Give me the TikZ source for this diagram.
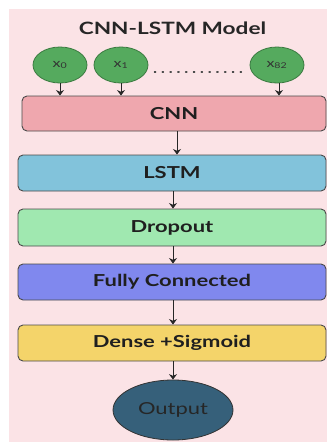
\documentclass[tikz,border=0pt]{standalone}
\usepackage{fontspec}
\setmainfont{Lato}
\usetikzlibrary{arrows.meta,shapes.geometric}
\definecolor{bgpink}{HTML}{FBE3E6}
\definecolor{cnncol}{HTML}{EFA7AE}
\definecolor{lstmcol}{HTML}{82C3DB}
\definecolor{dropcol}{HTML}{A0E8B0}
\definecolor{fccol}{HTML}{8088EE}
\definecolor{densecol}{HTML}{F4D46A}
\definecolor{outcol}{HTML}{36607A}
\definecolor{incol}{HTML}{55AA5E}
\definecolor{inborder}{HTML}{3A7A40}
\definecolor{boxborder}{HTML}{4A4A4A}
\newcommand\widetxt[1]{\scalebox{1.33}[1]{#1}}
\begin{document}
\begin{tikzpicture}[x=1pt,y=-1pt,
  layerbox/.style={draw=boxborder, line width=0.9pt, rounded corners=5pt, minimum height=36pt, inner sep=0pt, font=\bfseries\fontsize{16.5}{18}\selectfont, text=black!88},
  inputnode/.style={ellipse, draw=inborder, fill=incol, line width=0.8pt, minimum width=54pt, minimum height=36pt, inner sep=0pt, font=\fontsize{12}{13}\selectfont, text=black!80},
  flow/.style={-{Stealth[length=5.5pt,width=8pt]}, line width=1pt, black!85}
]
\useasboundingbox (0,0) rectangle (327,442);
\fill[bgpink] (9,9) rectangle (327,442);
\node[font=\bfseries\fontsize{17}{19}\selectfont, text=black!85] (title) at (172.5,28) {\widetxt{CNN-LSTM Model}};
\node[inputnode] (x0) at (60,65) {\widetxt{x\textsubscript{0}}};
\node[inputnode] (x1) at (121,65) {\widetxt{x\textsubscript{1}}};
\node[inputnode] (x82) at (277,65) {\widetxt{x\textsubscript{82}}};
\draw[line width=1.3pt, black!70, dash pattern=on 1.3pt off 6.5pt, line cap=round] ([xshift=6pt,yshift=-7pt]x1.east) -- ([xshift=-6pt,yshift=-7pt]x82.west);
\node[layerbox, fill=cnncol, minimum width=304pt, minimum height=35pt] (cnn) at (174,113.5) {\widetxt{CNN}};
\node[layerbox, fill=lstmcol, minimum width=308pt] (lstm) at (172,173) {\widetxt{LSTM}};
\node[layerbox, fill=dropcol, minimum width=308pt, minimum height=37pt] (drop) at (172,227.5) {\widetxt{Dropout}};
\node[layerbox, fill=fccol, minimum width=308pt] (fc) at (172,282) {\widetxt{Fully Connected}};
\node[layerbox, fill=densecol, minimum width=308pt] (dense) at (172,343) {\widetxt{Dense +Sigmoid}};
\node[ellipse, draw=black!80, fill=outcol, line width=0.8pt, minimum width=120pt, minimum height=60pt, inner sep=0pt, font=\fontsize{16.5}{18}\selectfont, text=black!85] (out) at (173,410) {\widetxt{Output}};
\draw[flow] (x0.south) -- (x0.south |- cnn.north);
\draw[flow] (x1.south) -- (x1.south |- cnn.north);
\draw[flow] ([xshift=2pt]x82.south) -- ([xshift=2pt]x82.south |- cnn.north);
\draw[flow] ([xshift=3pt]cnn.south) -- ([xshift=3pt]cnn.south |- lstm.north);
\draw[flow] ([xshift=1pt]lstm.south) -- ([xshift=1pt]lstm.south |- drop.north);
\draw[flow] ([xshift=1pt]drop.south) -- ([xshift=1pt]drop.south |- fc.north);
\draw[flow] ([xshift=1pt]fc.south) -- ([xshift=1pt]fc.south |- dense.north);
\draw[flow] (dense.south -| out.north) -- (out.north);
\end{tikzpicture}
\end{document}
